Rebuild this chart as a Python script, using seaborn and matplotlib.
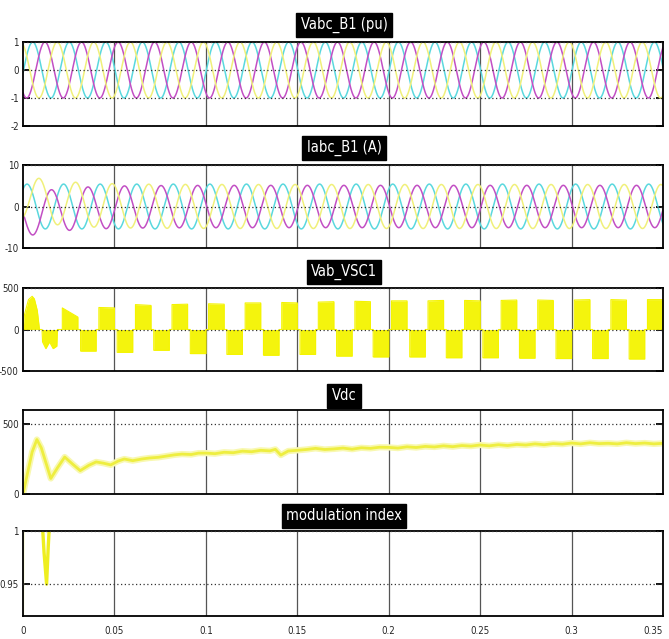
import numpy as np
import pandas as pd
import matplotlib
matplotlib.use("Agg")
import matplotlib.pyplot as plt
import seaborn as sns

# ---------------- data ----------------
t_end = 0.35
freq_hz = 50.0
x_ticks = [0, 0.05, 0.1, 0.15, 0.2, 0.25, 0.3, 0.35]
x_tick_labels = ["0", "0.05", "0.1", "0.15", "0.2", "0.25", "0.3", "0.35"]

titles = ["Vabc_B1 (pu)", "Iabc_B1 (A)", "Vab_VSC1", "Vdc", "modulation index"]
y_limits = [(-2, 1), (-10, 10), (-500, 500), (0, 600), (0.92, 1.0)]
y_ticks = [[-2, -1, 0, 1], [-10, 0, 10], [-500, 0, 500], [0, 500], [0.95, 1]]
y_tick_labels = [["-2", "-1", "0", "1"], ["-10", "0", "10"], ["-500", "0", "500"],
                 ["0", "500"], ["0.95", "1"]]

# three-phase voltage (pu): phase colour, time of first peak (s), amplitude
vabc_phase = ["cyan", "magenta", "yellow"]
vabc_peak_time = [0.0053, 0.0120, 0.0187]
vabc_amp = [1.0, 1.0, 1.0]

# three-phase current (A): time of first peak, steady amplitude, initial dc offset
iabc_phase = ["cyan", "magenta", "yellow"]
iabc_peak_time = [0.0022, 0.0155, 0.0088]
iabc_amp = [5.4, 5.1, 5.3]
iabc_dc0 = [0.0, -2.3, 2.3]
iabc_dc_tau = 0.02

# Vab_VSC1: start-up lobes (t, v) then PWM blocks each half cycle
vab_start_t = [0.0, 0.0008, 0.0030, 0.0050, 0.0062, 0.0078, 0.0090, 0.0104,
               0.0107, 0.0125, 0.0145, 0.0165, 0.0185, 0.0188]
vab_start_v = [0, 180, 360, 400, 370, 230, 0, 0,
               -150, -230, -150, -230, -200, 0]
vab_first_pos_start = 0.0215
vab_first_neg_start = 0.0315
vab_block_len = 0.0085
vab_pos_top_start = [260, 265, 300, 300, 310, 320, 325, 330, 340, 345, 345, 350, 350, 355, 355, 360, 360]
vab_pos_top_end = [150, 260, 290, 305, 305, 320, 320, 335, 335, 345, 350, 345, 355, 350, 360, 355, 360]
vab_neg_bottom = [-260, -275, -250, -290, -300, -310, -300, -320, -330, -330, -340, -340, -345, -350, -350, -355]

# Vdc (V)
vdc_t = [0, 0.002, 0.005, 0.0076, 0.010, 0.0152, 0.019, 0.0228, 0.027, 0.0313,
         0.036, 0.040, 0.044, 0.048, 0.052, 0.0554, 0.060, 0.065, 0.069, 0.074,
         0.078, 0.083, 0.087, 0.092, 0.096, 0.100, 0.105, 0.110, 0.115, 0.120,
         0.125, 0.130, 0.135, 0.138, 0.141, 0.145, 0.150, 0.155, 0.160, 0.165,
         0.170, 0.175, 0.180, 0.185, 0.190, 0.195, 0.200, 0.205, 0.210, 0.215,
         0.220, 0.225, 0.230, 0.235, 0.240, 0.245, 0.250, 0.255, 0.260, 0.265,
         0.270, 0.275, 0.280, 0.285, 0.290, 0.295, 0.300, 0.305, 0.310, 0.315,
         0.320, 0.325, 0.330, 0.335, 0.340, 0.345, 0.350]
vdc_v = [0, 120, 300, 389, 330, 111, 190, 264, 215, 167,
         205, 229, 220, 208, 235, 250, 238, 250, 257, 262,
         270, 280, 285, 282, 292, 292, 288, 298, 295, 306,
         302, 312, 308, 319, 278, 307, 312, 318, 326, 318,
         322, 328, 320, 330, 326, 334, 333, 328, 337, 332,
         340, 336, 344, 338, 346, 342, 350, 344, 352, 346,
         354, 350, 358, 352, 360, 356, 364, 358, 366, 360,
         362, 358, 366, 360, 364, 358, 362]

# modulation index: faint start-up trace, then the V dip
mi_start_t = [0.0, 0.0003]
mi_start_v = [0.90, 1.05]
mi_t = [0.0098, 0.0115, 0.0129, 0.0138, 0.0152, 0.35]
mi_v = [1.03, 0.98, 0.950, 0.985, 1.03, 1.05]

# ---------------- colours / fonts ----------------
phase_colors = {"cyan": "#5ad8de", "magenta": "#c24fc4", "yellow": "#f0f07a"}
scope_yellow = "#f4f400"

sns.set_theme(style="white")
plt.rcParams["font.family"] = ["DejaVu Sans"]
plt.rcParams["font.stretch"] = "condensed"

W, H = 669, 639
fig = plt.figure(figsize=(W / 100, H / 100), dpi=100)
fig.patch.set_facecolor("white")

left_px, right_px = 23, 663
tops = [42, 165, 288, 410, 531]
bottoms = [126, 248, 371, 494, 616]
title_y = [25, 148, 272, 396, 516]

t = np.arange(0, t_end + 1e-9, 0.00005)
w = 2 * np.pi * freq_hz

axes = []
for i in range(5):
    ax = fig.add_axes([left_px / W, 1 - bottoms[i] / H,
                       (right_px - left_px) / W, (bottoms[i] - tops[i]) / H])
    axes.append(ax)

# panel 1: Vabc
rows = []
for ph, tp, a in zip(vabc_phase, vabc_peak_time, vabc_amp):
    rows.append(pd.DataFrame({"t": t, "v": a * np.cos(w * (t - tp)), "phase": ph}))
df = pd.concat(rows)
sns.lineplot(data=df, x="t", y="v", hue="phase", palette=phase_colors,
             estimator=None, sort=False, legend=False, linewidth=1.1, ax=axes[0])

# panel 2: Iabc
rows = []
for ph, tp, a, d in zip(iabc_phase, iabc_peak_time, iabc_amp, iabc_dc0):
    v = a * np.cos(w * (t - tp)) + d * np.exp(-t / iabc_dc_tau)
    rows.append(pd.DataFrame({"t": t, "v": v, "phase": ph}))
df = pd.concat(rows)
sns.lineplot(data=df, x="t", y="v", hue="phase", palette=phase_colors,
             estimator=None, sort=False, legend=False, linewidth=1.1, ax=axes[1])

# panel 3: Vab_VSC1 envelope
half = 1.0 / freq_hz
et = list(vab_start_t)
ev = list(vab_start_v)
blocks = []
for k, (a0, a1) in enumerate(zip(vab_pos_top_start, vab_pos_top_end)):
    blocks.append((vab_first_pos_start + k * half, a0, a1))
for k, b in enumerate(vab_neg_bottom):
    blocks.append((vab_first_neg_start + k * half, b, b))
blocks.sort()
for s, a0, a1 in blocks:
    if s >= t_end:
        continue
    e = min(s + vab_block_len, t_end)
    et += [s, s, e, e]
    ev += [0, a0, a1, 0]
vab = pd.DataFrame({"t": et, "v": ev})
axes[2].fill_between(vab["t"], 0, vab["v"], color=scope_yellow, linewidth=0, alpha=0.95)
sns.lineplot(data=vab, x="t", y="v", estimator=None, sort=False, color=scope_yellow,
             linewidth=0.8, ax=axes[2])

# panel 4: Vdc
vdc = pd.DataFrame({"t": vdc_t, "v": vdc_v})
sns.lineplot(data=vdc, x="t", y="v", estimator=None, sort=False, color="#f8f8b0",
             linewidth=4.5, ax=axes[3])
sns.lineplot(data=vdc, x="t", y="v", estimator=None, sort=False, color="#eeee40",
             linewidth=2.0, ax=axes[3])

# panel 5: modulation index
sns.lineplot(data=pd.DataFrame({"t": mi_start_t, "v": mi_start_v}), x="t", y="v",
             estimator=None, sort=False, color="#f6f6b0", linewidth=1.5, ax=axes[4])
sns.lineplot(data=pd.DataFrame({"t": mi_t, "v": mi_v}), x="t", y="v",
             estimator=None, sort=False, color="#eeee20", linewidth=2.4, ax=axes[4])

for i, ax in enumerate(axes):
    ax.set_xlim(0, t_end)
    ax.set_ylim(*y_limits[i])
    ax.set_xlabel("")
    ax.set_ylabel("")
    ax.set_facecolor("white")
    for x in x_ticks[1:-1]:
        ax.axvline(x, color="#555555", linewidth=0.9, zorder=0.5)
    for y in y_ticks[i]:
        ax.axhline(y, color="#333333", linewidth=0.9, linestyle=(0, (1, 2)), zorder=3)
    ax.set_yticks(y_ticks[i])
    ax.set_yticklabels(y_tick_labels[i], fontsize=7)
    ax.tick_params(axis="y", direction="in", length=5, width=1.3, color="black",
                   left=True, right=True, pad=3)
    ax.set_xticks(x_ticks)
    if i == 4:
        ax.set_xticklabels(x_tick_labels, fontsize=7)
        ax.tick_params(axis="x", direction="in", length=0, pad=7)
        ax.get_xticklabels()[-1].set_ha("right")
    else:
        ax.set_xticklabels([])
        ax.tick_params(axis="x", length=0)
    for sp in ax.spines.values():
        sp.set_color("black")
        sp.set_linewidth(1.3)
    fig.text(344 / W, 1 - title_y[i] / H, titles[i], color="white", fontsize=10.5,
             ha="center", va="center",
             bbox=dict(facecolor="black", edgecolor="black", pad=3))

fig.savefig("out.png", dpi=100, facecolor="white")
